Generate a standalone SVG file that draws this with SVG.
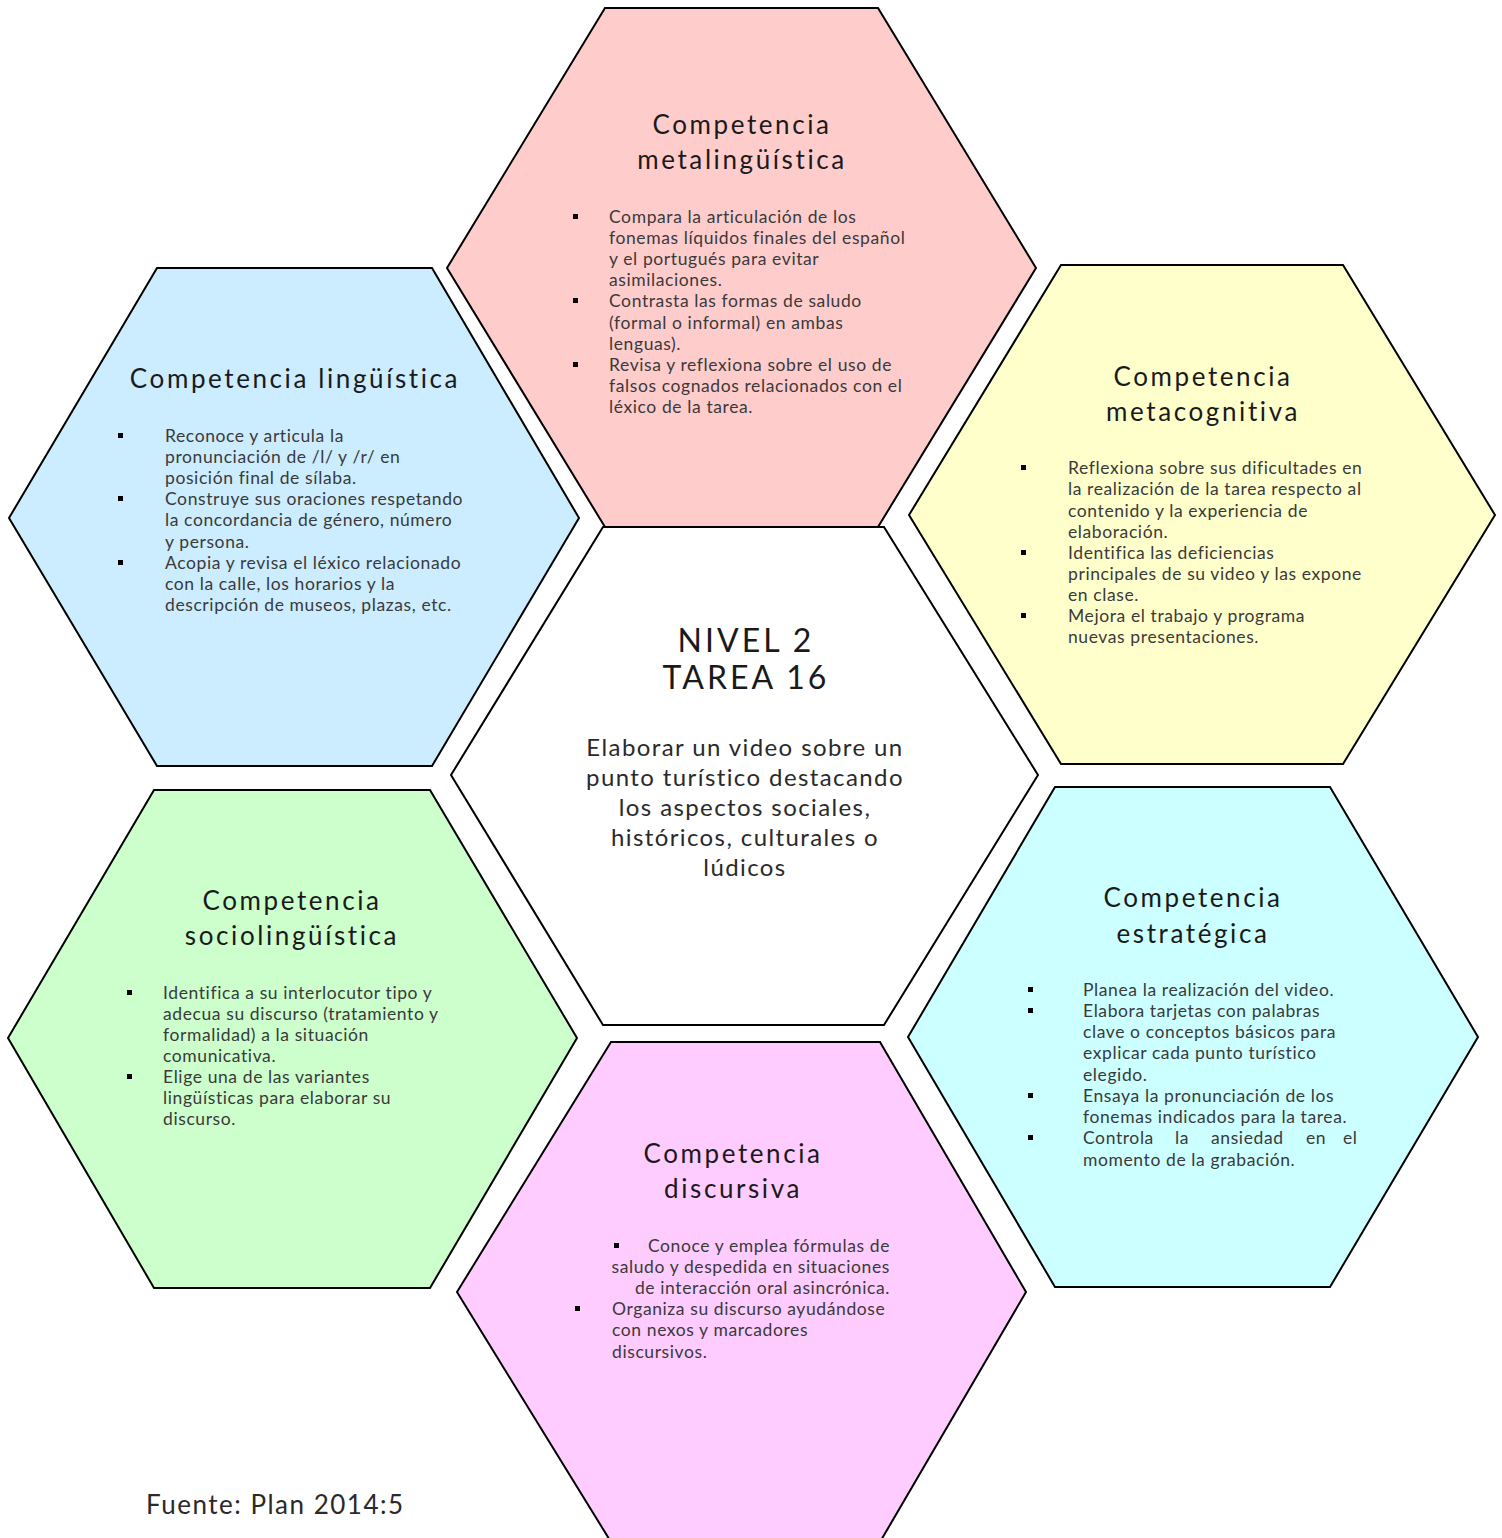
<svg xmlns="http://www.w3.org/2000/svg" width="1502" height="1538" viewBox="0 0 1502 1538">
<style>
.hex{stroke:#000;stroke-width:2;stroke-linejoin:miter}
.t{font-family:Lato,"Liberation Sans",sans-serif;font-size:26px;fill:#1a1a1a;text-anchor:middle;letter-spacing:2.6px}
.b{font-family:Lato,"Liberation Sans",sans-serif;font-size:17.5px;fill:#3a3a3a;letter-spacing:0.6px}
.c{font-family:Lato,"Liberation Sans",sans-serif;font-size:24px;fill:#2a2a2a;text-anchor:middle;letter-spacing:1.4px}
.h{font-family:Lato,"Liberation Sans",sans-serif;font-size:32px;fill:#1a1a1a;text-anchor:middle;letter-spacing:3px}
.f{font-family:Lato,"Liberation Sans",sans-serif;font-size:26px;fill:#2a2a2a;letter-spacing:1.5px}
.dot{fill:#000}
</style>
<rect width="1502" height="1538" fill="#fff"/>

<g id="metalinguistica">
<polygon class="hex" fill="#FFCCCC" points="447,268 605,8 878,8 1036,268 878,527 605,527"/>
<text class="t" x="742" y="134">Competencia</text>
<text class="t" x="742" y="169">metalingüística</text>
<rect class="dot" x="573" y="214" width="5" height="5"/>
<rect class="dot" x="573" y="298" width="5" height="5"/>
<rect class="dot" x="573" y="362" width="5" height="5"/>
<text class="b" x="609" y="223">Compara la articulación de los</text>
<text class="b" x="609" y="244">fonemas líquidos finales del español</text>
<text class="b" x="609" y="265">y el portugués para evitar</text>
<text class="b" x="609" y="286">asimilaciones.</text>
<text class="b" x="609" y="307">Contrasta las formas de saludo</text>
<text class="b" x="609" y="329">(formal o informal) en ambas</text>
<text class="b" x="609" y="350">lenguas).</text>
<text class="b" x="609" y="371">Revisa y reflexiona sobre el uso de</text>
<text class="b" x="609" y="392">falsos cognados relacionados con el</text>
<text class="b" x="609" y="413">léxico de la tarea.</text>
</g>

<g id="linguistica">
<polygon class="hex" fill="#CCECFF" points="9,518 157,268 432,268 579,518 432,766 157,766"/>
<text class="t" x="295" y="388">Competencia lingüística</text>
<rect class="dot" x="118" y="433" width="5" height="5"/>
<rect class="dot" x="118" y="496" width="5" height="5"/>
<rect class="dot" x="118" y="560" width="5" height="5"/>
<text class="b" x="165" y="442">Reconoce y articula la</text>
<text class="b" x="165" y="463">pronunciación de /l/ y /r/ en</text>
<text class="b" x="165" y="484">posición final de sílaba.</text>
<text class="b" x="165" y="505">Construye sus oraciones respetando</text>
<text class="b" x="165" y="526">la concordancia de género, número</text>
<text class="b" x="165" y="548">y persona.</text>
<text class="b" x="165" y="569">Acopia y revisa el léxico relacionado</text>
<text class="b" x="165" y="590">con la calle, los horarios y la</text>
<text class="b" x="165" y="611">descripción de museos, plazas, etc.</text>
</g>

<g id="metacognitiva">
<polygon class="hex" fill="#FFFFCC" points="909,515 1061,265 1343,265 1495,515 1343,764 1061,764"/>
<text class="t" x="1203" y="386">Competencia</text>
<text class="t" x="1203" y="421">metacognitiva</text>
<rect class="dot" x="1021" y="465" width="5" height="5"/>
<rect class="dot" x="1021" y="550" width="5" height="5"/>
<rect class="dot" x="1021" y="613" width="5" height="5"/>
<text class="b" x="1068" y="474">Reflexiona sobre sus dificultades en</text>
<text class="b" x="1068" y="495">la realización de la tarea respecto al</text>
<text class="b" x="1068" y="517">contenido y la experiencia de</text>
<text class="b" x="1068" y="538">elaboración.</text>
<text class="b" x="1068" y="559">Identifica las deficiencias</text>
<text class="b" x="1068" y="580">principales de su video y las expone</text>
<text class="b" x="1068" y="601">en clase.</text>
<text class="b" x="1068" y="622">Mejora el trabajo y programa</text>
<text class="b" x="1068" y="643">nuevas presentaciones.</text>
</g>

<g id="centro">
<polygon class="hex" fill="#FFFFFF" points="451,775 603,527 884,527 1038,775 884,1025 603,1025"/>
<text class="h" x="746" y="652">NIVEL 2</text>
<text class="h" x="746" y="689">TAREA 16</text>
<text class="c" x="745" y="756">Elaborar un video sobre un</text>
<text class="c" x="745" y="786">punto turístico destacando</text>
<text class="c" x="745" y="816">los aspectos sociales,</text>
<text class="c" x="745" y="846">históricos, culturales o</text>
<text class="c" x="745" y="876">lúdicos</text>
</g>

<g id="sociolinguistica">
<polygon class="hex" fill="#CCFFCC" points="8,1038 154,790 430,790 577,1038 430,1288 154,1288"/>
<text class="t" x="292" y="910">Competencia</text>
<text class="t" x="292" y="945">sociolingüística</text>
<rect class="dot" x="127" y="990" width="5" height="5"/>
<rect class="dot" x="127" y="1074" width="5" height="5"/>
<text class="b" x="163" y="999">Identifica a su interlocutor tipo y</text>
<text class="b" x="163" y="1020">adecua su discurso (tratamiento y</text>
<text class="b" x="163" y="1041">formalidad) a la situación</text>
<text class="b" x="163" y="1062">comunicativa.</text>
<text class="b" x="163" y="1083">Elige una de las variantes</text>
<text class="b" x="163" y="1104">lingüísticas para elaborar su</text>
<text class="b" x="163" y="1125">discurso.</text>
</g>

<g id="estrategica">
<polygon class="hex" fill="#CCFFFF" points="908,1037 1055,787 1330,787 1478,1037 1330,1287 1055,1287"/>
<text class="t" x="1193" y="907">Competencia</text>
<text class="t" x="1193" y="943">estratégica</text>
<rect class="dot" x="1028" y="987" width="5" height="5"/>
<rect class="dot" x="1028" y="1008" width="5" height="5"/>
<rect class="dot" x="1028" y="1093" width="5" height="5"/>
<rect class="dot" x="1028" y="1135" width="5" height="5"/>
<text class="b" x="1083" y="996">Planea la realización del video.</text>
<text class="b" x="1083" y="1017">Elabora tarjetas con palabras</text>
<text class="b" x="1083" y="1038">clave o conceptos básicos para</text>
<text class="b" x="1083" y="1059">explicar cada punto turístico</text>
<text class="b" x="1083" y="1081">elegido.</text>
<text class="b" x="1083" y="1102">Ensaya la pronunciación de los</text>
<text class="b" x="1083" y="1123">fonemas indicados para la tarea.</text>
<text class="b" y="1144"><tspan x="1083">Controla</tspan><tspan x="1175">la</tspan><tspan x="1211">ansiedad</tspan><tspan x="1306">en</tspan><tspan x="1343">el</tspan></text>
<text class="b" x="1083" y="1166">momento de la grabación.</text>
</g>

<g id="discursiva">
<polygon class="hex" fill="#FFCCFF" points="457,1292 611,1042 880,1042 1026,1292 880,1542 611,1542"/>
<text class="t" x="733" y="1163">Competencia</text>
<text class="t" x="733" y="1198">discursiva</text>
<rect class="dot" x="614" y="1243" width="5" height="5"/>
<rect class="dot" x="575" y="1306" width="5" height="5"/>
<text class="b" x="890" y="1252" text-anchor="end">Conoce y emplea fórmulas de</text>
<text class="b" x="890" y="1273" text-anchor="end">saludo y despedida en situaciones</text>
<text class="b" x="890" y="1294" text-anchor="end">de interacción oral asincrónica.</text>
<text class="b" x="612" y="1315">Organiza su discurso ayudándose</text>
<text class="b" x="612" y="1336">con nexos y marcadores</text>
<text class="b" x="612" y="1358">discursivos.</text>
</g>

<g id="fuente">
<text class="f" x="146" y="1514">Fuente: Plan 2014:5</text>
</g>
</svg>
